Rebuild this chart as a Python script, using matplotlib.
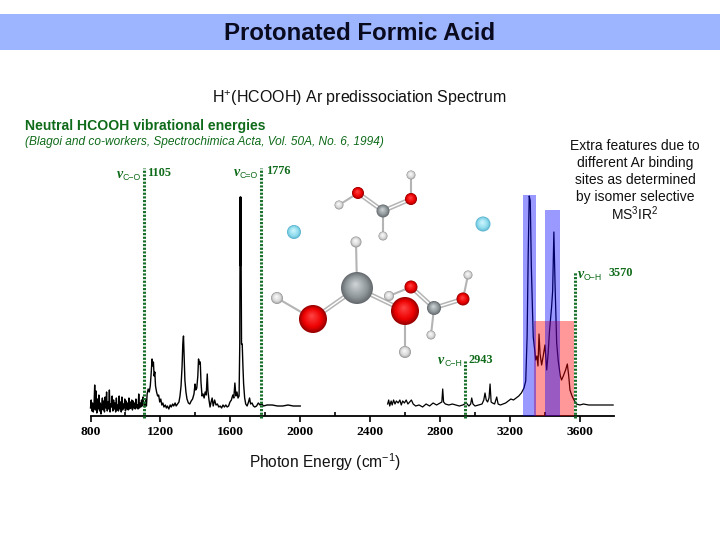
import numpy as np
import matplotlib
matplotlib.use("Agg")
import matplotlib.pyplot as plt
from matplotlib.patches import Circle, Rectangle

plt.rcParams["font.family"] = ["Liberation Sans", "DejaVu Sans"]
plt.rcParams["mathtext.fontset"] = "custom"
plt.rcParams["mathtext.rm"] = "Liberation Sans"
plt.rcParams["mathtext.default"] = "rm"

# spectrum, low energy part (cm-1, intensity)
low_x = [800, 804, 808, 812, 816, 820, 824, 828, 832, 836, 840, 844, 848, 852, 856, 860, 864, 868, 872, 876,
         880, 884, 888, 892, 896, 900, 904, 908, 912, 916, 920, 924, 928, 932, 936, 940, 944, 948, 952, 956,
         960, 964, 968, 972, 976, 980, 984, 988, 992, 996, 1000, 1004, 1008, 1012, 1016, 1020, 1024, 1028, 1032, 1036,
         1040, 1044, 1048, 1052, 1056, 1060, 1064, 1068, 1072, 1076, 1080, 1084, 1088, 1092, 1096, 1100,
         1104, 1110, 1116, 1120, 1124, 1130, 1136, 1142, 1148, 1152, 1156, 1160, 1164, 1168, 1172, 1178, 1184, 1190, 1196,
         1202, 1208, 1214, 1220, 1228, 1234, 1240, 1248, 1256, 1262, 1270, 1276, 1284, 1290, 1298, 1306, 1312, 1318, 1324,
         1328, 1332, 1336, 1340, 1346, 1352, 1360, 1368, 1376, 1384, 1392, 1398, 1402, 1408, 1414, 1418, 1424, 1428, 1432,
         1438, 1444, 1450, 1456, 1462, 1468, 1472, 1478, 1484, 1490, 1496, 1502, 1510, 1518, 1526, 1534, 1542, 1550, 1558,
         1566, 1574, 1582, 1590, 1598, 1606, 1614, 1620, 1626, 1632, 1638, 1644, 1650, 1654, 1656, 1658, 1660, 1662, 1664,
         1668, 1672, 1676, 1682, 1688, 1696, 1704, 1710, 1716, 1724, 1732, 1740, 1750, 1760, 1770, 1780, 1790, 1810, 1840,
         1870, 1900, 1930, 1960, 2000]
low_y = [8, 16, 5, 13, 4, 10, 31, 6, 25, 3, 17, 7, 21, 5, 13, 2, 11, 18, 6, 15,
         4, 19, 8, 24, 5, 14, 7, 26, 4, 12, 9, 20, 5, 16, 7, 13, 4, 18, 6, 11,
         5, 20, 7, 14, 4, 19, 6, 12, 8, 17, 5, 15, 7, 13, 6, 18, 7, 14, 8, 16,
         6, 15, 8, 13, 7, 17, 8, 11, 7, 22, 8, 13, 9, 16, 10, 19,
         13, 9, 16, 10, 22, 27, 24, 30, 45, 57, 50, 54, 40, 44, 30, 24, 20, 21, 14,
         17, 11, 13, 9, 11, 8, 10, 7, 11, 9, 12, 10, 13, 10, 12, 14, 20, 30, 50,
         72, 80, 58, 36, 24, 17, 13, 12, 15, 17, 22, 32, 26, 28, 40, 57, 52, 54, 34,
         20, 22, 18, 24, 21, 42, 25, 16, 9, 14, 18, 10, 16, 11, 12, 9, 10, 8, 11,
         9, 11, 9, 10, 14, 16, 21, 18, 33, 20, 24, 18, 20, 72, 219, 150, 219, 140, 72,
         72, 50, 32, 18, 12, 10, 14, 18, 12, 13, 10, 9, 10, 13, 11, 12, 10, 11, 11,
         10, 10, 11, 10, 10]

# spectrum, high energy part
high_x = [2500, 2506, 2512, 2520, 2526, 2534, 2542, 2550, 2560, 2570, 2578, 2586, 2596, 2606, 2616, 2626, 2636, 2646,
          2660, 2680, 2700, 2720, 2740, 2760, 2780, 2800, 2810, 2815, 2820, 2830, 2850, 2870, 2890, 2910, 2930, 2950,
          2965, 2975, 2981, 2988, 3000, 3020, 3040, 3050, 3057, 3064, 3072, 3080, 3086, 3092, 3100, 3112, 3124, 3132,
          3145, 3160, 3175, 3190, 3205, 3220, 3235, 3250, 3265, 3280, 3290, 3298, 3304, 3310, 3316, 3322, 3328, 3333,
          3340, 3347, 3354, 3360, 3366, 3372, 3381, 3390, 3400, 3410, 3418, 3426, 3438, 3444, 3451, 3458, 3467, 3476,
          3488, 3495, 3505, 3518, 3528, 3536, 3543, 3555, 3566, 3580, 3600, 3620, 3650, 3690, 3730, 3790]
high_y = [12, 16, 10, 15, 11, 16, 12, 15, 13, 16, 11, 15, 13, 16, 12, 14, 16, 12,
          10, 11, 9, 12, 10, 13, 11, 13, 14, 27, 14, 12, 11, 12, 11, 10, 11, 13,
          10, 12, 18, 12, 10, 11, 12, 16, 23, 16, 14, 18, 32, 14, 13, 12, 19, 12,
          11, 12, 13, 15, 17, 16, 18, 20, 23, 28, 35, 80, 160, 220, 215, 150, 110, 79,
          68, 56, 60, 50, 82, 62, 51, 60, 71, 46, 62, 85, 109, 125, 184, 130, 73, 55,
          40, 36, 40, 46, 52, 40, 26, 20, 16, 12, 11, 12, 11, 11, 11, 11]

# highlighted ranges: start, end, top
blue_lo = [3276, 3402]
blue_hi = [3347, 3486]
blue_top = [221, 206]
pink_lo = [3337]
pink_hi = [3566]
pink_top = [95]

# neutral vibrations
mode_pos = [1105, 1776, 2943, 3570]
mode_top = [248, 248, 55, 144]
mode_sub = ["C\u2212O", "C=O", "C\u2212H", "O\u2212H"]
mode_val = ["1105", "1776", "2943", "3570"]

major_ticks = [800, 1200, 1600, 2000, 2400, 2800, 3200, 3600]
minor_ticks = [1000, 1400, 1800, 2200, 2600, 3000, 3400]

note_lines = ["Extra features due to", "different Ar binding", "sites as determined", "by isomer selective", "MS$^{3}$IR$^{2}$"]

# molecule: x px, y px, radius, kind
atoms = [
    (358, 193, 6, "O"), (411, 199, 6, "O"), (383, 211, 6.5, "C"), (339, 205, 4.5, "H"), (411, 175, 4.5, "H"), (383, 236, 4.5, "H"),
    (294, 232, 7, "Ar"), (483, 224, 7.5, "Ar"),
    (389, 296, 5, "H"), (411, 287, 6.5, "O"), (434, 308, 7, "C"), (463, 299, 6.5, "O"), (468, 275, 4.5, "H"), (431, 335, 4.5, "H"),
    (356, 242, 5.5, "H"), (277, 298, 6, "H"), (405, 352, 6, "H"), (357, 288, 16, "C"), (313, 319, 14, "O"), (405, 311, 14, "O"),
]
bonds = [(0, 2, 2), (1, 2, 2), (0, 3, 1), (1, 4, 1), (2, 5, 1),
         (9, 10, 2), (10, 11, 2), (11, 12, 1), (10, 13, 1), (8, 9, 1),
         (17, 18, 2), (17, 19, 2), (17, 14, 1), (18, 15, 1), (19, 16, 1)]
atom_cols = {"O": ("#9a0000", "#ee0000", "#ff4a4a"), "C": ("#666c70", "#8f979b", "#d5d9db"),
             "H": ("#9a9a9a", "#d8d8d8", "#ffffff"), "Ar": ("#5fb5cf", "#8edcee", "#d6f8ff")}

GREEN = "#0f6b1a"
SERIF = "Liberation Serif"


def sphere(bg, x, y, r, kind):
    cols = [np.array(matplotlib.colors.to_rgb(c)) for c in atom_cols[kind]]
    n = 14
    for i in range(n):
        t = i / n
        if t < 0.3:
            c = cols[0] + (cols[1] - cols[0]) * t / 0.3
        else:
            c = cols[1] + (cols[2] - cols[1]) * (t - 0.3) / 0.7
        bg.add_patch(Circle((x - 0.1 * r * t, y - 0.25 * r * t), r * (1 - t), fc=c, ec="none", zorder=3))


fig = plt.figure(figsize=(7.2, 5.4), dpi=100, facecolor="white")

# whole slide in pixel coordinates
bg = fig.add_axes([0, 0, 1, 1])
bg.set_xlim(0, 720)
bg.set_ylim(540, 0)
bg.axis("off")
bg.add_patch(Rectangle((0, 14), 720, 36, fc="#9db5ff", ec="none"))

bg.text(360, 33, "Protonated Formic Acid", ha="center", va="center", fontsize=17.3, fontweight="bold", color="#0a0a1e")
bg.text(359, 98.5, "H$^{+}$(HCOOH) Ar predissociation Spectrum", ha="center", va="center", fontsize=11.5, color="#111111")
bg.text(25, 126, "Neutral HCOOH vibrational energies", ha="left", va="center", fontsize=10.1, fontweight="bold", color=GREEN)
bg.text(25, 142, "(Blagoi and co-workers, Spectrochimica Acta, Vol. 50A, No. 6, 1994)", ha="left", va="center",
        fontsize=8.6, fontstyle="italic", color=GREEN)
for i, line in enumerate(note_lines):
    bg.text(635, 146 + 17 * i, line, ha="center", va="center", fontsize=10, color="#111111")
bg.text(325, 462, "Photon Energy (cm$^{-1}$)", ha="center", va="center", fontsize=11.2, color="#111111")

for a, b, order in bonds:
    xa, ya = atoms[a][:2]
    xb, yb = atoms[b][:2]
    if order == 1:
        bg.plot([xa, xb], [ya, yb], color="#b4b4b4", lw=1.5, zorder=2)
    else:
        dx, dy = xb - xa, yb - ya
        norm = np.hypot(dx, dy)
        ox, oy = -dy / norm * 1.5, dx / norm * 1.5
        for s in (-1, 1):
            bg.plot([xa + s * ox, xb + s * ox], [ya + s * oy, yb + s * oy], color="#b4b4b4", lw=1.1, zorder=2)
for x, y, r, kind in atoms:
    sphere(bg, x, y, r, kind)

# spectrum axes, one unit of intensity is one pixel
ax = fig.add_axes([90.5 / 720, (540 - 416) / 540, 523.5 / 720, 226 / 540])
ax.patch.set_alpha(0)
ax.set_xlim(800, 3795)
ax.set_ylim(0, 226)
for side in ["top", "right", "left"]:
    ax.spines[side].set_visible(False)
ax.spines["bottom"].set_linewidth(1.3)
ax.set_yticks([])

ax.plot(low_x, low_y, color="black", lw=1.0, clip_on=False, zorder=2)
ax.plot(high_x, high_y, color="black", lw=0.9, clip_on=False, zorder=2)

for lo, hi, top in zip(pink_lo, pink_hi, pink_top):
    ax.fill_between([lo, hi], 0, top, color="#ff0000", alpha=0.4, lw=0, zorder=3)
for lo, hi, top in zip(blue_lo, blue_hi, blue_top):
    ax.fill_between([lo, hi], 0, top, color="#0000ff", alpha=0.4, lw=0, zorder=3)

ax.vlines(mode_pos, -2, mode_top, color="#17702a", lw=2.2, linestyles=(0, (0.7, 0.5)), clip_on=False, zorder=4)

ax.set_xticks(major_ticks)
ax.set_xticks(minor_ticks, minor=True)
ax.tick_params(axis="x", which="major", direction="out", length=4, width=1.2, pad=3)
ax.tick_params(axis="x", which="minor", direction="in", length=3, width=1.2)
for lab in ax.get_xticklabels():
    lab.set_fontfamily(SERIF)
    lab.set_fontweight("bold")
    lab.set_fontsize(9.7)

# mode labels sit to the left and right of each dotted line
nu_off = [-27, -27, -27, 3.5]
sub_off = [-21, -21.5, -21, 9]
val_off = [3.5, 5, 3, 33.5]
label_up = [-6, -4, 0, -2]
for i, pos in enumerate(mode_pos):
    y_lab = mode_top[i] + label_up[i]
    ax.annotate("\u03bd", (pos, y_lab), xytext=(nu_off[i], 0), textcoords="offset pixels", ha="left", va="center",
                family=SERIF, fontweight="bold", fontstyle="italic", fontsize=10, color=GREEN, annotation_clip=False)
    ax.annotate(mode_sub[i], (pos, y_lab), xytext=(sub_off[i], -3), textcoords="offset pixels", ha="left", va="center",
                fontsize=6.3, color=GREEN, annotation_clip=False)
    ax.annotate(mode_val[i], (pos, y_lab), xytext=(val_off[i], 1), textcoords="offset pixels", ha="left", va="center",
                family=SERIF, fontweight="bold", fontsize=8.8, color=GREEN, annotation_clip=False)

fig.savefig("out.png", dpi=100)
